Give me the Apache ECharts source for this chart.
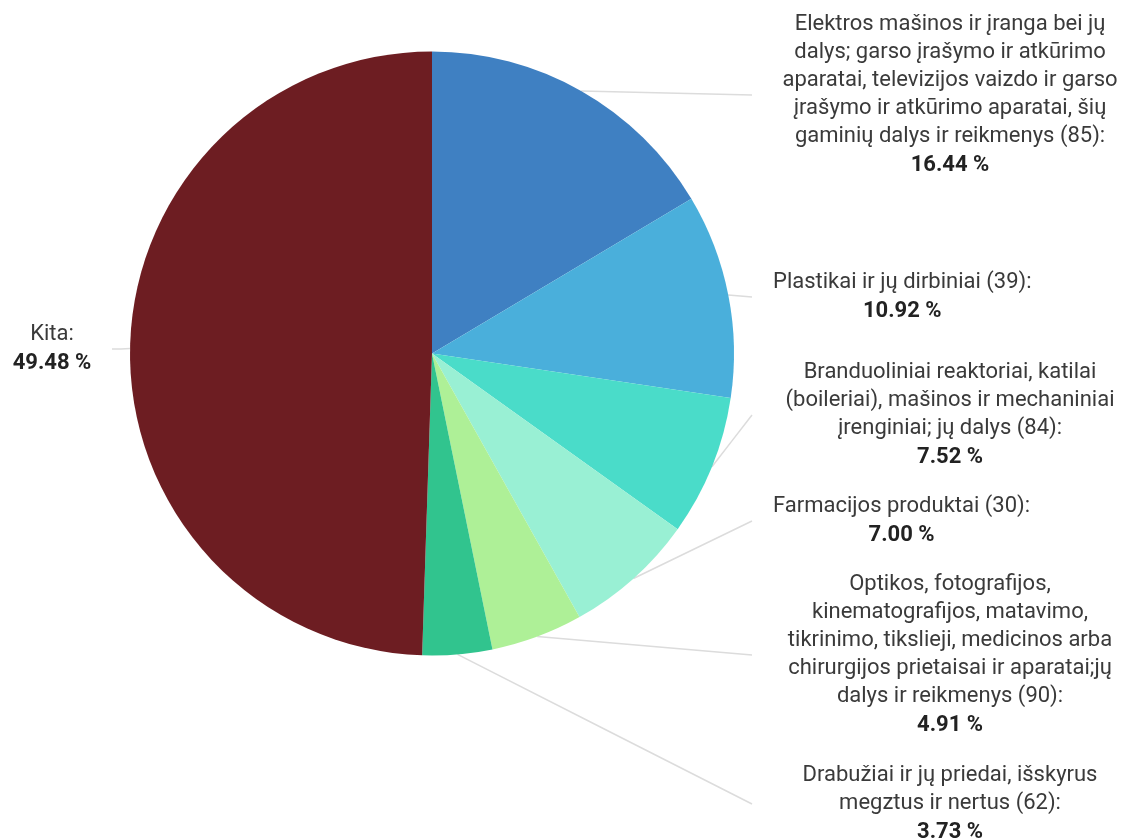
<!DOCTYPE html>
<html>
<head>
<meta charset="utf-8">
<script src="https://cdn.jsdelivr.net/npm/echarts@6/dist/echarts.min.js"></script>
<style>html,body{margin:0;padding:0;background:#fff}#c{width:1121px;height:840px}</style>
</head>
<body>
<div id="c"></div>
<script>
const categories = [
  'Elektros mašinos ir įranga bei jų dalys; garso įrašymo ir atkūrimo aparatai, televizijos vaizdo ir garso įrašymo ir atkūrimo aparatai, šių gaminių dalys ir reikmenys (85)',
  'Plastikai ir jų dirbiniai (39)',
  'Branduoliniai reaktoriai, katilai (boileriai), mašinos ir mechaniniai įrenginiai; jų dalys (84)',
  'Farmacijos produktai (30)',
  'Optikos, fotografijos, kinematografijos, matavimo, tikrinimo, tikslieji, medicinos arba chirurgijos prietaisai ir aparatai;jų dalys ir reikmenys (90)',
  'Drabužiai ir jų priedai, išskyrus megztus ir nertus (62)',
  'Kita'
];
const labelLinesText = [
  ['Elektros mašinos ir įranga bei jų', 'dalys; garso įrašymo ir atkūrimo', 'aparatai, televizijos vaizdo ir garso', 'įrašymo ir atkūrimo aparatai, šių', 'gaminių dalys ir reikmenys (85):'],
  ['Plastikai ir jų dirbiniai (39):'],
  ['Branduoliniai reaktoriai, katilai', '(boileriai), mašinos ir mechaniniai', 'įrenginiai; jų dalys (84):'],
  ['Farmacijos produktai (30):'],
  ['Optikos, fotografijos,', 'kinematografijos, matavimo,', 'tikrinimo, tikslieji, medicinos arba', 'chirurgijos prietaisai ir aparatai;jų', 'dalys ir reikmenys (90):'],
  ['Drabužiai ir jų priedai, išskyrus', 'megztus ir nertus (62):'],
  ['Kita:']
];
const values = [16.44, 10.92, 7.52, 7.00, 4.91, 3.73, 49.48];
const colors = ['#3F80C2', '#4AAFDB', '#4ADCC9', '#99F0D4', '#AEF097', '#31C48E', '#6D1D22'];

const CX = 432, CY = 353.5, R = 302;
const total = values.reduce((a, b) => a + b, 0);
function midAngle(i) {
  let before = 0;
  for (let k = 0; k < i; k++) before += values[k];
  return (before + values[i] / 2) / total * 2 * Math.PI; // clockwise from top
}
const labelY = [95, 297, 415, 521, 655, 804, 349];

const chart = echarts.init(document.getElementById('c'), null, {renderer: 'canvas'});
chart.setOption({
  backgroundColor: '#fff',
  animation: false,
  series: [{
    type: 'pie',
    center: [CX, CY],
    radius: R,
    startAngle: 90,
    clockwise: true,
    avoidLabelOverlap: false,
    data: categories.map((n, i) => ({name: n, value: values[i], itemStyle: {color: colors[i]}})),
    itemStyle: {borderWidth: 0},
    emphasis: {disabled: true},
    label: {
      show: true,
      position: 'outer',
      fontFamily: 'Roboto',
      fontSize: 22,
      color: '#3a3a3a',
      lineHeight: 28,
      formatter: p => labelLinesText[p.dataIndex].map(s => '{n|' + s + '}').join('\n') +
        '\n{v|' + values[p.dataIndex].toFixed(2) + ' %}',
      rich: {
        n: {fontFamily: 'Roboto', fontSize: 22, color: '#3a3a3a', lineHeight: 28, align: 'center'},
        v: {fontFamily: 'Roboto', fontSize: 22, color: '#222', fontWeight: 'bold', lineHeight: 29, align: 'center'}
      }
    },
    labelLine: {show: true, length: 10, length2: 10, lineStyle: {color: '#dcdcdc', width: 1.5}},
    labelLayout: function (p) {
      const i = p.dataIndex;
      const a = midAngle(i);
      const ex = CX + R * Math.sin(a), ey = CY - R * Math.cos(a);
      const w = p.labelRect.width;
      const y = labelY[i];
      if (i === 6) {
        return {x: 52, y: y, align: 'center', verticalAlign: 'middle',
          labelLinePoints: [[ex, ey], [121, y], [112, y]]};
      }
      const short = labelLinesText[i].length === 1;
      const lx = short ? 773 + w / 2 : 950;
      return {x: lx, y: y, align: 'center', verticalAlign: 'middle',
        labelLinePoints: [[ex, ey], [(ex + 752) / 2, (ey + y) / 2], [752, y]]};
    }
  }]
});
</script>
</body>
</html>
